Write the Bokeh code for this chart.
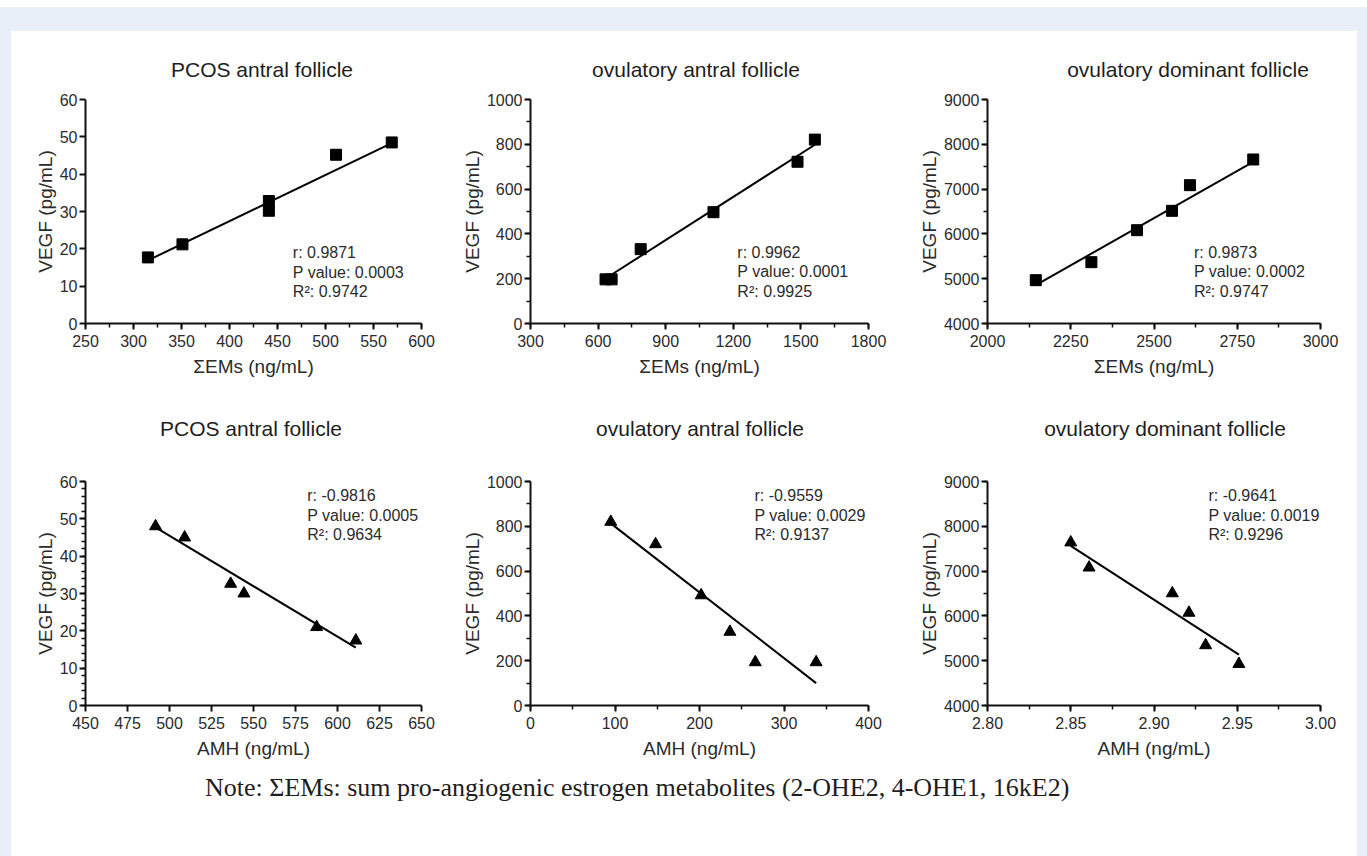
from bokeh.plotting import figure
from bokeh.layouts import column, row
from bokeh.models import Spacer, Div, Label, SingleIntervalTicker, PrintfTickFormatter
from bokeh.embed import file_html
from bokeh.resources import INLINE

FONT = "Liberation Sans"
TXT = "#2b2b2b"
BLUE = "#E8EFF8"

# ---------------- data ----------------
titles = ["PCOS antral follicle", "ovulatory antral follicle", "ovulatory dominant follicle"]
xlabel_ems = "\u03a3EMs (ng/mL)"
xlabel_amh = "AMH (ng/mL)"
ylabel = "VEGF (pg/mL)"
note_text = "Note: \u03a3EMs: sum pro-angiogenic estrogen metabolites (2-OHE2, 4-OHE1, 16kE2)"

# top row: sum of estrogen metabolites vs VEGF
pcos_ems = [315, 351, 441, 441, 511, 569]
pcos_vegf_ems = [17.7, 21.2, 30.2, 32.8, 45.2, 48.5]
pcos_ems_fit_x = [315, 569]
pcos_ems_fit_y = [16.9, 48.3]
pcos_ems_stats = ["r: 0.9871", "P value: 0.0003", "R\u00b2: 0.9742"]

ovant_ems = [633, 660, 789, 1112, 1485, 1562]
ovant_vegf_ems = [197, 197, 332, 497, 722, 821]
ovant_ems_fit_x = [633, 1562]
ovant_ems_fit_y = [201, 798]
ovant_ems_stats = ["r: 0.9962", "P value: 0.0001", "R\u00b2: 0.9925"]

ovdom_ems = [2145, 2312, 2449, 2554, 2608, 2798]
ovdom_vegf_ems = [4967, 5369, 6083, 6515, 7088, 7661]
ovdom_ems_fit_x = [2145, 2798]
ovdom_ems_fit_y = [4856, 7609]
ovdom_ems_stats = ["r: 0.9873", "P value: 0.0002", "R\u00b2: 0.9747"]

# bottom row: AMH vs VEGF
pcos_amh = [491.7, 509, 536.4, 544.3, 587.6, 610.9]
pcos_vegf_amh = [48.0, 45.0, 32.6, 30.0, 21.0, 17.4]
pcos_amh_fit_x = [491.7, 610.9]
pcos_amh_fit_y = [47.7, 15.5]
pcos_amh_stats = ["r: -0.9816", "P value: 0.0005", "R\u00b2: 0.9634"]

ovant_amh = [95, 148, 202, 236, 266, 338]
ovant_vegf_amh = [820, 720, 492, 329, 193, 193]
ovant_amh_fit_x = [95, 338]
ovant_amh_fit_y = [813, 100]
ovant_amh_stats = ["r: -0.9559", "P value: 0.0029", "R\u00b2: 0.9137"]

ovdom_amh = [2.850, 2.861, 2.911, 2.921, 2.931, 2.951]
ovdom_vegf_amh = [7640, 7079, 6504, 6070, 5345, 4927]
ovdom_amh_fit_x = [2.850, 2.951]
ovdom_amh_fit_y = [7565, 5136]
ovdom_amh_stats = ["r: -0.9641", "P value: 0.0019", "R\u00b2: 0.9296"]

# axis ranges and tick intervals
x_ranges = [(250, 600), (300, 1800), (2000, 3000), (450, 650), (0, 400), (2.80, 3.00)]
y_ranges = [(0, 60), (0, 1000), (4000, 9000)]
x_ticks = [50, 300, 250, 25, 100, 0.05]
y_ticks = [10, 200, 1000]

FIG_W = [444, 460, 442]


def panel(xr, yr, xt, yt, xminor, yminor, xlab, xs, ys, fx, fy,
          marker, msize, stats, sx, sy, w, h, bl, br, bt, bb, ylab_stand, xfmt=None):
    p = figure(width=w, height=h, x_range=xr, y_range=yr,
               output_backend="svg", toolbar_location=None,
               min_border_left=bl, min_border_right=br,
               min_border_top=bt, min_border_bottom=bb)
    p.outline_line_color = None
    p.grid.visible = False
    p.background_fill_color = "white"
    p.border_fill_color = "white"

    p.xaxis.ticker = SingleIntervalTicker(interval=xt, num_minor_ticks=xminor)
    p.yaxis.ticker = SingleIntervalTicker(interval=yt, num_minor_ticks=yminor)
    if xfmt:
        p.xaxis.formatter = PrintfTickFormatter(format=xfmt)
    for ax in (p.xaxis[0], p.yaxis[0]):
        ax.axis_line_width = 2
        ax.axis_line_color = "#111111"
        ax.major_tick_line_width = 2
        ax.major_tick_line_color = "#111111"
        ax.minor_tick_line_width = 1.5
        ax.minor_tick_line_color = "#111111"
        ax.major_tick_in = 0
        ax.major_tick_out = 6
        ax.minor_tick_in = 0
        ax.minor_tick_out = 4
        ax.major_label_text_font = FONT
        ax.major_label_text_font_size = "16px"
        ax.major_label_text_color = TXT
        ax.axis_label_text_font = FONT
        ax.axis_label_text_font_size = "19px"
        ax.axis_label_text_font_style = "normal"
        ax.axis_label_text_color = TXT
    p.xaxis.axis_label = xlab
    p.yaxis.axis_label = ylabel
    p.xaxis.major_label_standoff = 5
    p.xaxis.axis_label_standoff = 6
    p.yaxis.major_label_standoff = 2
    p.yaxis.axis_label_standoff = ylab_stand
    if xminor == 0:
        p.xaxis.minor_tick_line_color = None
    if yminor == 0:
        p.yaxis.minor_tick_line_color = None

    p.line(fx, fy, line_width=2, color="black")
    p.scatter(xs, ys, marker=marker, size=msize, color="black")
    for i, t in enumerate(stats):
        p.add_layout(Label(x=sx, y=sy, y_offset=-19.5 * i, text=t,
                           text_font=FONT, text_font_size="16px",
                           text_color=TXT, text_baseline="middle"))
    return p


def title_div(text, w, h, dx, top):
    html = ('<div style="width:%dpx;text-align:center;position:relative;left:%dpx;'
            'margin-top:%dpx;font-family:\'Liberation Sans\';font-size:21px;line-height:24px;'
            'color:#1e1e1e;white-space:nowrap;">%s</div>') % (w, dx, top, text)
    return Div(text=html, width=w, height=h, margin=(0, 0, 0, 0),
               styles={"background-color": "white"})


TOP_H, BOT_H = 298, 306
f1 = panel(x_ranges[0], y_ranges[0], x_ticks[0], y_ticks[0], 2, 0, xlabel_ems,
           pcos_ems, pcos_vegf_ems, pcos_ems_fit_x, pcos_ems_fit_y, "square", 11,
           pcos_ems_stats, 466, 19.0, FIG_W[0], TOP_H, 74, 34, 18, 56, 1)
f2 = panel(x_ranges[1], y_ranges[1], x_ticks[1], y_ticks[1], 2, 2, xlabel_ems,
           ovant_ems, ovant_vegf_ems, ovant_ems_fit_x, ovant_ems_fit_y, "square", 11,
           ovant_ems_stats, 1218, 317, FIG_W[1], TOP_H, 75, 47, 18, 56, 1)
f3 = panel(x_ranges[2], y_ranges[2], x_ticks[2], y_ticks[2], 2, 2, xlabel_ems,
           ovdom_ems, ovdom_vegf_ems, ovdom_ems_fit_x, ovdom_ems_fit_y, "square", 11,
           ovdom_ems_stats, 2620, 5585, FIG_W[2], TOP_H, 71, 37, 18, 56, 1)
f4 = panel(x_ranges[3], y_ranges[0], x_ticks[3], y_ticks[0], 0, 5, xlabel_amh,
           pcos_amh, pcos_vegf_amh, pcos_amh_fit_x, pcos_amh_fit_y, "triangle", 12,
           pcos_amh_stats, 582, 56.2, FIG_W[0], BOT_H, 74, 34, 20, 62, 1)
f5 = panel(x_ranges[4], y_ranges[1], x_ticks[4], y_ticks[1], 2, 2, xlabel_amh,
           ovant_amh, ovant_vegf_amh, ovant_amh_fit_x, ovant_amh_fit_y, "triangle", 12,
           ovant_amh_stats, 265, 937, FIG_W[1], BOT_H, 75, 47, 20, 62, 1)
f6 = panel(x_ranges[5], y_ranges[2], x_ticks[5], y_ticks[2], 2, 2, xlabel_amh,
           ovdom_amh, ovdom_vegf_amh, ovdom_amh_fit_x, ovdom_amh_fit_y, "triangle", 12,
           ovdom_amh_stats, 2.9327, 8686, FIG_W[2], BOT_H, 71, 37, 20, 62, 1, xfmt="%.2f")

t_row1 = row(title_div(titles[0], FIG_W[0], 50, 29, 27),
             title_div(titles[1], FIG_W[1], 50, 11, 27),
             title_div(titles[2], FIG_W[2], 50, 52, 27), spacing=0)
t_row2 = row(title_div(titles[0], FIG_W[0], 82, 18, 38),
             title_div(titles[1], FIG_W[1], 82, 15, 38),
             title_div(titles[2], FIG_W[2], 82, 29, 38), spacing=0)

note = Div(text='<div style="margin-left:194px;margin-top:2px;font-family:\'Liberation Serif\';'
                'font-size:26px;color:#1e1e1e;white-space:nowrap;">' + note_text + '</div>',
           width=1346, height=89, margin=(0, 0, 0, 0), styles={"background-color": "white"})

inner = column(t_row1, row(f1, f2, f3, spacing=0), t_row2, row(f4, f5, f6, spacing=0), note,
               spacing=0, styles={"background-color": "white"})
mid = row(Spacer(width=11, height=825, styles={"background-color": BLUE}), inner,
          Spacer(width=10, height=825, styles={"background-color": BLUE}), spacing=0)
root = column(Spacer(width=1367, height=7, styles={"background-color": "white"}),
              Spacer(width=1367, height=24, styles={"background-color": BLUE}), mid, spacing=0,
              styles={"background-color": BLUE})

with open("out.html", "w", encoding="utf-8") as fh:
    fh.write(file_html(root, INLINE))
